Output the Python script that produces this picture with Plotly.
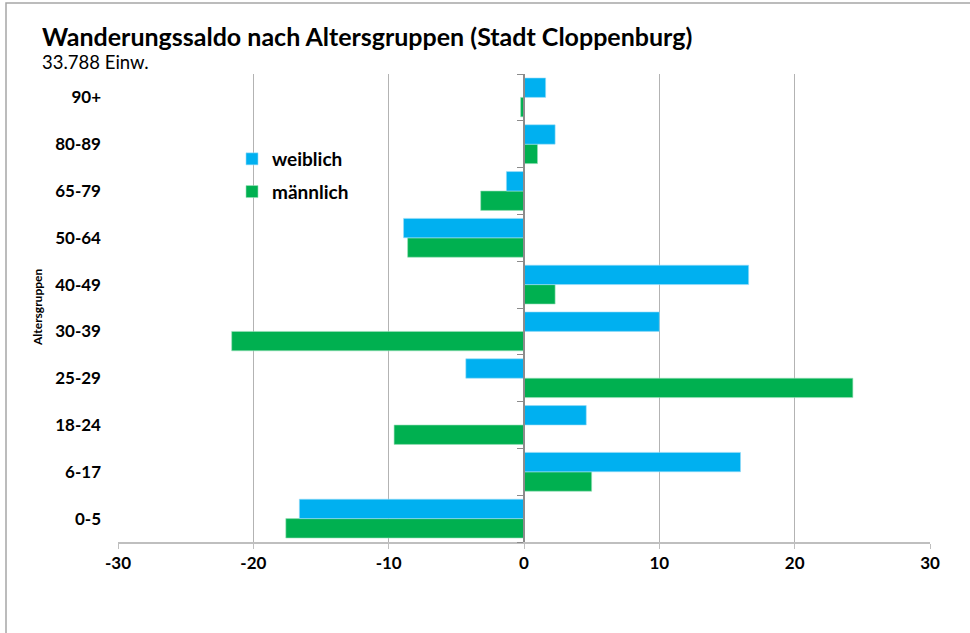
import plotly.graph_objects as go

FONT = 'Lato'
BLUE = '#00B0F0'
GREEN = '#00B050'
GRID = '#B3B3B3'

# DATA:
altersgruppen = ['0-5', '6-17', '18-24', '25-29', '30-39', '40-49', '50-64', '65-79', '80-89', '90+']
weiblich = [-16.6, 16.0, 4.6, -4.3, 10.0, 16.6, -8.9, -1.3, 2.3, 1.6]
maennlich = [-17.6, 5.0, -9.6, 24.3, -21.6, 2.3, -8.6, -3.2, 1.0, -0.25]
x_ticks = [-30, -20, -10, 0, 10, 20, 30]
x_tick_labels = ['-30', '-20', '-10', '0', '10', '20', '30']

fig = go.Figure()

# männlich first so that weiblich sits on top inside each group
fig.add_trace(go.Bar(
    y=altersgruppen, x=maennlich, name='männlich', orientation='h',
    marker=dict(color=GREEN, line=dict(color='#9EE0BC', width=0.6)),
    legendrank=2, legendgroup='m'
))
fig.add_trace(go.Bar(
    y=altersgruppen, x=weiblich, name='weiblich', orientation='h',
    marker=dict(color=BLUE, line=dict(color='#9ADCF7', width=0.6)),
    legendrank=1, legendgroup='w'
))
# invisible helper on y2 -> tick marks on the zero line
fig.add_trace(go.Scatter(
    y=altersgruppen, x=[None] * len(altersgruppen), yaxis='y2',
    mode='markers', showlegend=False, hoverinfo='skip'
))

# plot area in pixels (used for the outer frame)
L, R, T, B = 118, 930, 74, 542
pw, ph = R - L, B - T

fig.update_layout(
    width=970,
    height=633,
    plot_bgcolor='white',
    paper_bgcolor='white',
    margin=dict(l=L, r=970 - R, t=T, b=633 - B),
    barmode='group',
    bargap=0.17,
    bargroupgap=0,
    font=dict(family=FONT, color='black'),
    showlegend=True,
    legend=dict(
        x=(232 - L) / pw, y=(B - 140) / ph, xanchor='left', yanchor='top',
        font=dict(size=19, family=FONT, color='black', weight='bold'),
        bgcolor='rgba(0,0,0,0)', tracegroupgap=5, traceorder='grouped',
        itemwidth=30
    ),
    xaxis=dict(
        range=[-30, 30],
        tickvals=x_ticks, ticktext=x_tick_labels,
        showgrid=True, gridcolor=GRID, gridwidth=1,
        zeroline=True, zerolinecolor='#8C8C8C', zerolinewidth=1.5,
        showline=True, linecolor='#BFBFBF', linewidth=2,
        ticks='outside', ticklen=5, tickcolor='#BFBFBF',
        tickfont=dict(size=17, family=FONT, color='black', weight='bold'),
        ticklabelstandoff=0,
        fixedrange=True
    ),
    yaxis=dict(
        type='category',
        categoryorder='array', categoryarray=altersgruppen,
        range=[-0.5, len(altersgruppen) - 0.5],
        showgrid=False, zeroline=False, showline=False,
        ticks='',
        tickfont=dict(size=17, family=FONT, color='black', weight='bold'),
        ticklabelstandoff=16,
        fixedrange=True
    ),
    yaxis2=dict(
        type='category',
        categoryorder='array', categoryarray=altersgruppen,
        overlaying='y', matches='y', anchor='free', position=0.5,
        showticklabels=False, showgrid=False, zeroline=False,
        showline=True, linecolor='#8C8C8C', linewidth=1.5,
        ticks='outside', tickson='boundaries', ticklen=6, tickcolor='#8C8C8C',
        fixedrange=True
    ),
    shapes=[dict(
        type='rect', xref='paper', yref='paper',
        x0=(6 - L) / pw, x1=1.2, y0=-0.5, y1=(B - 3) / ph,
        line=dict(color='#A6A6A6', width=1.5), layer='below'
    )],
    annotations=[
        dict(
            text='<b>Wanderungssaldo nach Altersgruppen (Stadt Cloppenburg)</b>',
            xref='paper', yref='paper', x=(40 - L) / pw, y=(B - 36) / ph,
            xanchor='left', yanchor='middle', showarrow=False,
            font=dict(size=25, family=FONT, color='black')
        ),
        dict(
            text='33.788 Einw.',
            xref='paper', yref='paper', x=(40 - L) / pw, y=(B - 62) / ph,
            xanchor='left', yanchor='middle', showarrow=False,
            font=dict(size=18.5, family=FONT, color='black')
        ),
        dict(
            text='<b>Altersgruppen</b>',
            xref='paper', yref='paper', x=(37 - L) / pw, y=0.5,
            xanchor='center', yanchor='middle', showarrow=False, textangle=-90,
            font=dict(size=12, family=FONT, color='black')
        ),
    ]
)

fig.write_html(
    'out.html',
    config=dict(displayModeBar=False),
    post_script="document.body.style.margin='0';"
)
